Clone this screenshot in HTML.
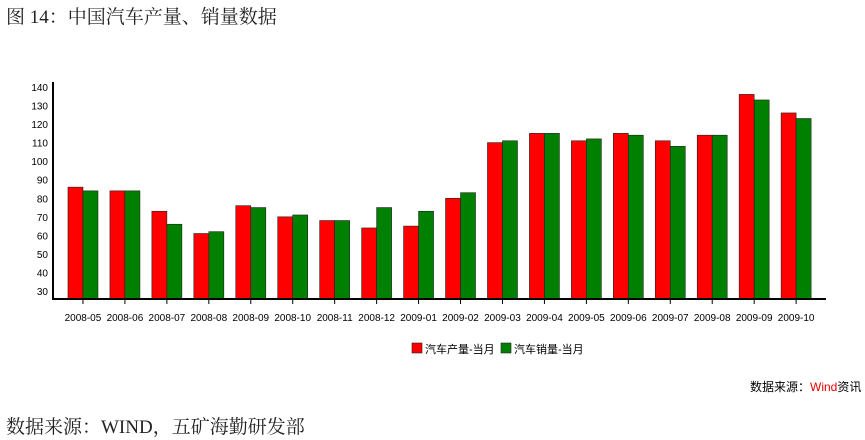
<!DOCTYPE html>
<html><head><meta charset="utf-8"><style>
body{margin:0;width:865px;height:440px;background:#fff;overflow:hidden;font-family:"Liberation Serif","Noto Serif CJK SC",serif;}
.t{position:absolute;white-space:nowrap}
</style></head><body>
<div class="t" style="left:6px;top:2px;font-size:19px;color:#222">图 14：中国汽车产量、销量数据</div>
<svg id="c" width="865" height="440" style="position:absolute;left:0;top:0"></svg>
<div class="t" style="left:750px;top:378px;font-size:12px;font-family:'Liberation Sans','Noto Sans CJK SC',sans-serif">数据来源：<span style="color:#e00">Wind</span>资讯</div>
<div class="t" style="left:6px;top:412px;font-size:19px;color:#222">数据来源：WIND，五矿海勤研发部</div>
<script>
const categories=["2008-05","2008-06","2008-07","2008-08","2008-09","2008-10","2008-11","2008-12","2009-01","2009-02","2009-03","2009-04","2009-05","2009-06","2009-07","2009-08","2009-09","2009-10"];
const production=[86,84,73,61,76,70,68,64,65,80,110,115,111,115,111,114,136,126];
const sales=[84,84,66,62,75,71,68,75,73,83,111,115,112,114,108,114,133,123];
const yTicks=[30,40,50,60,70,80,90,100,110,120,130,140];
const NS="http://www.w3.org/2000/svg";
const svg=document.getElementById('c');
const y0=299,ppu=1.855,base=25.7;
const y=v=>y0-(v-base)*ppu;
const cw=41.95,x0=62;
const xc=i=>x0+cw*(i+0.5);
function mk(t,a){const e=document.createElementNS(NS,t);for(const k in a)e.setAttribute(k,a[k]);svg.appendChild(e);return e;}
yTicks.forEach(v=>{
 const t=mk('text',{x:48,y:y(v)+4,'text-anchor':'end','font-size':10,'font-family':'Liberation Sans,sans-serif'});
 
 
 t.textContent=v;
});
categories.forEach((c,i)=>{
 const cx=xc(i);
 const r=mk('rect',{x:cx-15,y:y(production[i]),width:15,height:y0-y(production[i]),fill:'#ff0000',stroke:'#222','stroke-width':0.6});
 
 
 const g=mk('rect',{x:cx,y:y(sales[i]),width:15,height:y0-y(sales[i]),fill:'#008000',stroke:'#222','stroke-width':0.6});
 
 
 mk('line',{x1:cx,x2:cx,y1:y0,y2:y0+5,stroke:'#000'});
 const t=mk('text',{x:cx,y:y0+22,'text-anchor':'middle','font-size':10,'font-family':'Liberation Sans,sans-serif'});
 
 
 t.textContent=c;
});
const ya=mk('line',{x1:53,x2:53,y1:82,y2:300,stroke:'#000','stroke-width':2});


const xa=mk('line',{x1:52,x2:826,y1:299,y2:299,stroke:'#000','stroke-width':2});


[['#ff0000','汽车产量-当月',412],['#008000','汽车销量-当月',501]].forEach(([col,lab,lx])=>{
 const r=mk('rect',{x:lx,y:343,width:10,height:10,fill:col,stroke:'#222','stroke-width':0.6});
 
 
 const t=mk('text',{x:lx+13,y:353,'font-size':11,'font-family':'Liberation Sans,Noto Sans CJK SC,sans-serif'});
 
 
 t.textContent=lab;
});
</script>
</body></html>
